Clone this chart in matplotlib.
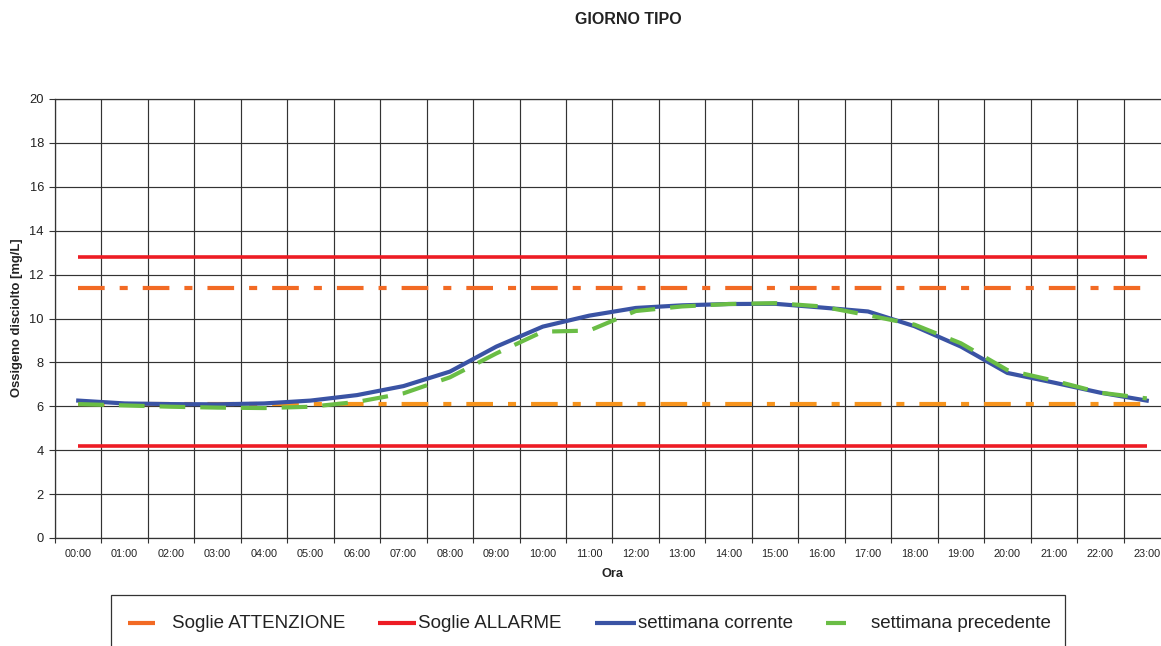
import matplotlib
matplotlib.use("Agg")
import matplotlib.pyplot as plt
from matplotlib.lines import Line2D
from matplotlib.patches import Rectangle

plt.rcParams['font.family'] = ['Liberation Sans', 'DejaVu Sans']
plt.rcParams['lines.scale_dashes'] = False

hours = ["00:00", "01:00", "02:00", "03:00", "04:00", "05:00", "06:00", "07:00",
         "08:00", "09:00", "10:00", "11:00", "12:00", "13:00", "14:00", "15:00",
         "16:00", "17:00", "18:00", "19:00", "20:00", "21:00", "22:00", "23:00"]
corrente = [6.26, 6.13, 6.10, 6.09, 6.13, 6.26, 6.51, 6.92, 7.58, 8.72, 9.63, 10.13,
            10.48, 10.60, 10.66, 10.67, 10.50, 10.32, 9.65, 8.72, 7.52, 7.08, 6.62, 6.26]
precedente = [6.10, 6.04, 5.98, 5.94, 5.92, 5.98, 6.20, 6.59, 7.32, 8.41, 9.40, 9.45,
              10.34, 10.55, 10.66, 10.70, 10.55, 10.15, 9.72, 8.87, 7.65, 7.17, 6.62, 6.36]
attenzione_alta = 11.4
attenzione_bassa = 6.1
allarme_alto = 12.8
allarme_basso = 4.2

W, H = 1161, 646
fig = plt.figure(figsize=(W / 100, H / 100), dpi=100)
fig.patch.set_facecolor('white')

def fx(px):
    return px / W

def fy(py):
    return 1 - py / H

ax = fig.add_axes([fx(55), fy(538), fx(1170) - fx(55), fy(99) - fy(538)])
x = list(range(len(hours)))
n = len(hours)

grid_c = '#333333'
ax.set_xlim(-0.5, n - 0.5)
ax.set_ylim(0, 20)
ax.set_yticks(range(0, 21, 2))
ax.set_xticks([i - 0.5 for i in range(n + 1)])
ax.set_xticklabels([])
ax.set_xticks(x, minor=True)
ax.set_xticklabels(hours, minor=True, fontsize=7.8, color='#222222')
ax.tick_params(axis='x', which='minor', length=0, pad=8.0)
ax.tick_params(axis='x', which='major', length=3.5, width=0.8, color=grid_c, direction='out')
ax.tick_params(axis='y', which='major', length=4, width=0.8, color=grid_c, direction='out',
               labelsize=9.3, labelcolor='#222222', pad=4)
ax.grid(True, which='major', color=grid_c, linewidth=0.85)
ax.set_axisbelow(True)
for s in ['left', 'bottom', 'top']:
    ax.spines[s].set_color(grid_c)
    ax.spines[s].set_linewidth(0.9)
ax.spines['right'].set_visible(False)

dashdot = (0, (19.2, 10.8, 5.8, 10.8))
xs = [x[0], x[-1]]
ax.plot(xs, [allarme_alto] * 2, color='#ED1C24', lw=2.6, solid_capstyle='butt')
ax.plot(xs, [allarme_basso] * 2, color='#ED1C24', lw=2.6, solid_capstyle='butt')
ax.plot(xs, [attenzione_alta] * 2, color='#F26A24', lw=3.0, linestyle=dashdot)
ax.plot(xs, [attenzione_bassa] * 2, color='#F7941D', lw=3.0, linestyle=dashdot)
ax.plot(x, corrente, color='#3A53A4', lw=3.0, solid_joinstyle='round')
ax.plot(x, precedente, color='#6ABD45', lw=3.0, linestyle=(0, (18.5, 10.8)))

fig.text(fx(628), fy(20), "GIORNO TIPO", ha='center', va='center', fontsize=11.5,
         fontweight='bold', color='#222222')
fig.text(fx(17), fy(318), "Ossigeno disciolto [mg/L]", ha='center', va='center',
         rotation=90, fontsize=9.4, fontweight='bold', color='#222222')
fig.text(fx(612), fy(574), "Ora", ha='center', va='center', fontsize=9.2,
         fontweight='bold', color='#222222')

# legend box
fig.patches.append(Rectangle((fx(111), fy(680)), fx(1065) - fx(111), fy(595) - fy(680),
                             transform=fig.transFigure, fill=False, edgecolor='#333333',
                             linewidth=0.9))
ly = fy(623)
legend_items = [
    (128, 155, '#F26A24', 172, "Soglie ATTENZIONE"),
    (378, 416, '#ED1C24', 418, "Soglie ALLARME"),
    (595, 636, '#3A53A4', 638, "settimana corrente"),
    (826, 846, '#6ABD45', 871, "settimana precedente"),
]
for x0, x1, c, tx, label in legend_items:
    fig.lines.append(Line2D([fx(x0), fx(x1)], [ly, ly], transform=fig.transFigure,
                            color=c, lw=3.0, solid_capstyle='butt'))
    fig.text(fx(tx), fy(624), label, ha='left', va='center', fontsize=13.5,
             color='#222222')

fig.savefig("out.png", dpi=100)
